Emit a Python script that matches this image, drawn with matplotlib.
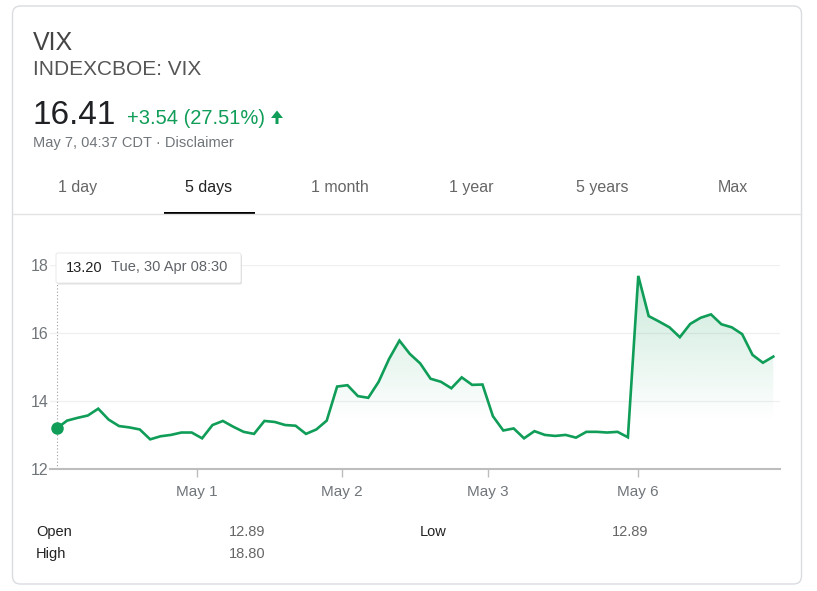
import matplotlib.pyplot as plt
import numpy as np
from matplotlib.patches import FancyBboxPatch, Rectangle, Polygon, FancyArrow

plt.rcParams['font.family'] = ['Liberation Sans', 'DejaVu Sans']

# 30-minute closes, Tue 30 Apr 08:30 -> Mon 6 May
vix = [13.20, 13.43, 13.51, 13.58, 13.78, 13.46, 13.27, 13.23, 13.17, 12.88,
       12.97, 13.01, 13.08, 13.08, 12.91, 13.30, 13.42, 13.25, 13.10, 13.04,
       13.42, 13.39, 13.30, 13.28, 13.04, 13.17, 13.43, 14.43, 14.47, 14.15,
       14.10, 14.57, 15.24, 15.78, 15.39, 15.11, 14.66, 14.57, 14.38, 14.70,
       14.48, 14.49, 13.56, 13.14, 13.20, 12.91, 13.12, 13.01, 12.98, 13.01,
       12.93, 13.10, 13.10, 13.08, 13.10, 12.94, 17.68, 16.50, 16.34, 16.17,
       15.88, 16.27, 16.45, 16.55, 16.26, 16.17, 15.97, 15.36, 15.13, 15.31]
day_ticks = [13.5, 27.5, 41.5, 56]
day_labels = ['May 1', 'May 2', 'May 3', 'May 6']
y_ticks = [12, 14, 16, 18]

tabs = ['1 day', '5 days', '1 month', '1 year', '5 years', 'Max']
tab_x = [78, 209, 340, 471, 602, 733]

stats_left = [('Open', '12.89'), ('High', '18.80')]
stats_right = [('Low', '12.89')]

green = '#0f9d58'
W, H = 817, 591

fig = plt.figure(figsize=(W / 100, H / 100), dpi=100)

# background layer in pixel coords
bg = fig.add_axes([0, 0, 1, 1], zorder=0)
bg.set_xlim(0, W)
bg.set_ylim(H, 0)
bg.axis('off')

bg.add_patch(FancyBboxPatch((12.5, 6), 789, 578, boxstyle='round,pad=0,rounding_size=8',
                            fc='white', ec='#dadce0', lw=1))
bg.text(33, 49.5, 'VIX', fontsize=18, color='#444444', va='baseline')
bg.text(33, 75, 'INDEXCBOE: VIX', fontsize=15, color='#555555', va='baseline')
bg.text(33, 124, '16.41', fontsize=24, color='#202124', va='baseline')
bg.text(127, 123.5, '+3.54 (27.51%)', fontsize=14.5, color=green, va='baseline')
bg.add_patch(FancyArrow(277, 124, 0, -13.5, width=3, head_width=12, head_length=7.5,
                        length_includes_head=True, color=green, lw=0))
bg.text(33, 147.5, 'May 7, 04:37 CDT \u00b7 Disclaimer', fontsize=10.5, color='#70757a',
        va='baseline')

for t, x in zip(tabs, tab_x):
    bg.text(x, 192, t, fontsize=11.5, ha='center', va='baseline',
            color='#222222' if t == '5 days' else '#666666')
bg.plot([13, 801], [214, 214], color='#e3e3e3', lw=1)
bg.add_patch(Rectangle((164, 211.5), 91, 3, color='black', lw=0))

for i, (k, v) in enumerate(stats_left):
    y = 536 + i * 22
    bg.text(36, y, k, fontsize=10.5, color='#222222', va='baseline')
    bg.text(229, y, v, fontsize=10.5, color='#666666', va='baseline')
for i, (k, v) in enumerate(stats_right):
    y = 536 + i * 22
    bg.text(420, y, k, fontsize=10.5, color='#222222', va='baseline')
    bg.text(612, y, v, fontsize=10.5, color='#666666', va='baseline')

# chart
x = np.arange(len(vix))
px_per = (773.3 - 56.7) / (len(vix) - 1)
ax = fig.add_axes([50 / W, (H - 469.3) / H, 730 / W, 204.3 / H], zorder=1)
ax.patch.set_alpha(0)
ax.set_xlim(-6.7 / px_per, x[-1] + 6.7 / px_per)
ax.set_ylim(12, 18)

# gradient fill under the line
grad = np.zeros((200, 2, 4))
grad[..., 0] = 0x0f / 255
grad[..., 1] = 0x9d / 255
grad[..., 2] = 0x58 / 255
levels = np.linspace(18, 12, 200)
grad[..., 3] = (0.24 * np.clip((levels - 13.4) / (18 - 13.4), 0, 1))[:, None]
im = ax.imshow(grad, extent=[x[0], x[-1], 12, 18], aspect='auto', interpolation='bilinear',
               zorder=1)
poly = Polygon(np.column_stack([np.r_[x, x[-1], x[0]], np.r_[vix, 12, 12]]),
               closed=True, fc='none', ec='none', transform=ax.transData)
ax.add_patch(poly)
im.set_clip_path(poly)

ax.plot(x, vix, color=green, lw=1.9, zorder=3, solid_joinstyle='miter')
ax.plot(x[0], vix[0], 'o', color=green, ms=8, zorder=4)
ax.axvline(x[0], ymin=0, ymax=(469.3 - 283) / 204.3, color='#9e9e9e', ls=(0, (1, 2)),
           lw=0.8, zorder=2)

ax.set_yticks(y_ticks)
ax.set_yticklabels([str(v) for v in y_ticks])
ax.set_xticks(day_ticks)
ax.set_xticklabels(day_labels)
for g in y_ticks[1:]:
    ax.axhline(g, color='#f0f0f0', lw=1, zorder=0)
for s in ['top', 'right', 'left']:
    ax.spines[s].set_visible(False)
ax.spines['bottom'].set_color('#bdbdbd')
ax.spines['bottom'].set_linewidth(1.5)
ax.tick_params(axis='y', length=0, pad=1, labelsize=11.5, labelcolor='#70757a')
ax.tick_params(axis='x', length=6, width=1, color='#bdbdbd', pad=5, labelsize=11,
               labelcolor='#70757a')

# tooltip
top = fig.add_axes([0, 0, 1, 1], zorder=2)
top.set_xlim(0, W)
top.set_ylim(H, 0)
top.axis('off')
top.patch.set_alpha(0)
top.add_patch(FancyBboxPatch((57, 254.5), 185, 30, boxstyle='round,pad=0,rounding_size=2',
                             fc='#000000', alpha=0.12, lw=0))
top.add_patch(FancyBboxPatch((56, 253), 185, 30, boxstyle='round,pad=0,rounding_size=2',
                             fc='white', ec='#e6e6e6', lw=0.6))
top.text(66, 267.5, '13.20', fontsize=10.5, color='#222222', va='center')
top.text(111.5, 267.5, 'Tue, 30 Apr 08:30', fontsize=10.5, color='#5f6368', va='center')

fig.savefig('out.png', dpi=100)
